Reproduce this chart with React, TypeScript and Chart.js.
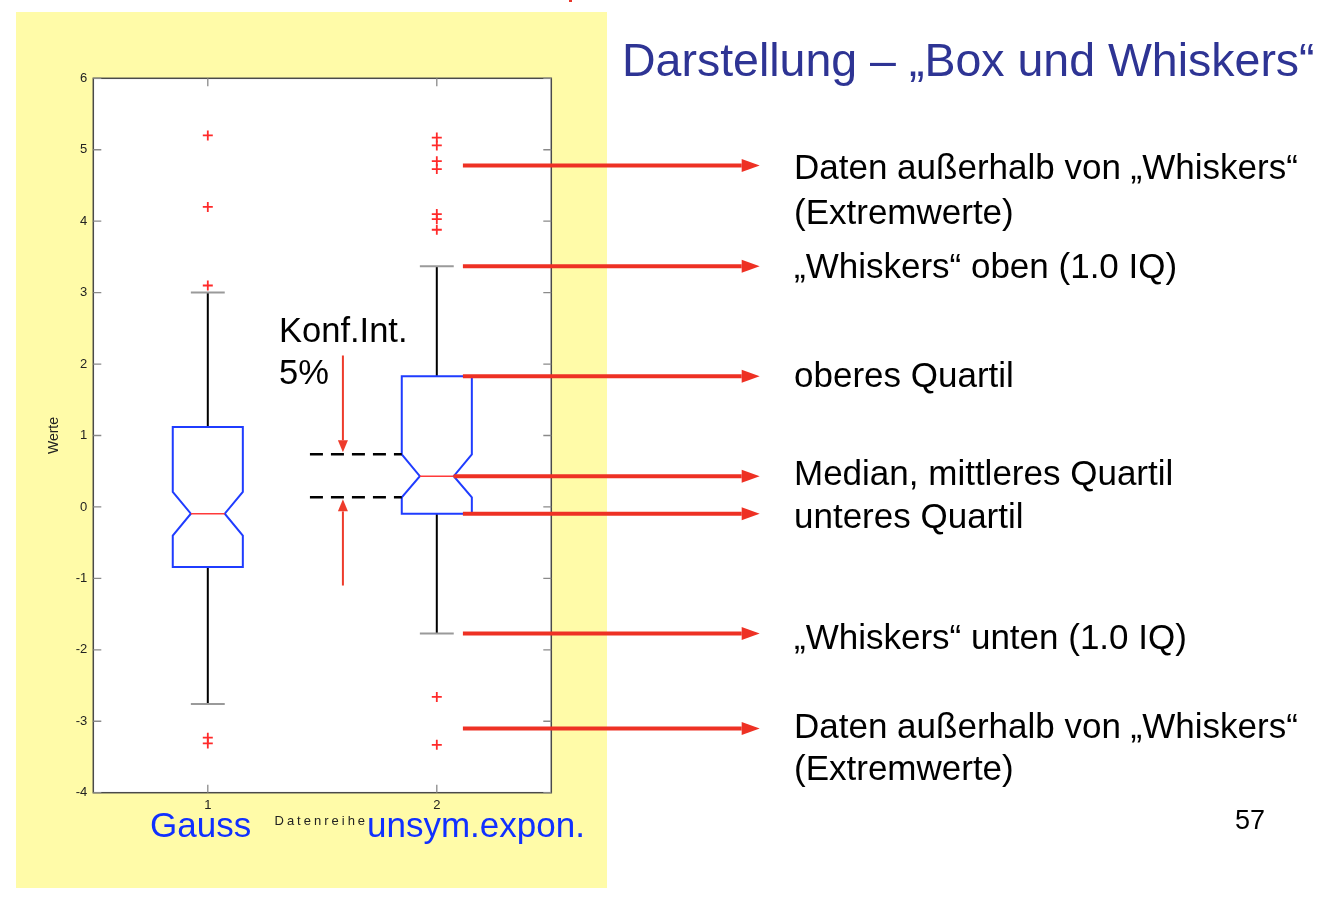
import React, { useEffect, useRef } from 'react';
import { Chart, registerables } from 'chart.js';

Chart.register(...registerables);

const FONT = "'Liberation Sans', Arial, Helvetica, sans-serif";

// ---- data ----
const categories = ['1', '2'];
const groupNames = ['Gauss', 'unsym.expon.'];
const whiskerLow = [-2.76, -1.77];
const quartile1 = [-0.84, -0.094];
const notchLow = [-0.4, 0.134];
const median = [-0.094, 0.43];
const notchHigh = [0.21, 0.736];
const quartile3 = [1.12, 1.83];
const whiskerHigh = [3.0, 3.37];
const outliersGauss = [5.2, 4.2, 3.1, -3.23, -3.31];
const outliersExpon = [5.17, 5.06, 4.84, 4.73, 4.1, 4.03, 3.88, -2.66, -3.33];
const yMin = -4;
const yMax = 6;
const yStep = 1;
// annotation arrows point at these values of series 2
const annotationValues = [4.78, whiskerHigh[1], quartile3[1], median[1], quartile1[1], whiskerLow[1], -3.1];
const konfArrowFrom = [2.12, -1.1];

const annotationLines = [
  { text: 'Daten außerhalb von „Whiskers“', top: 149 },
  { text: '(Extremwerte)', top: 194 },
  { text: '„Whiskers“ oben (1.0 IQ)', top: 248 },
  { text: 'oberes Quartil', top: 357 },
  { text: 'Median, mittleres Quartil', top: 455 },
  { text: 'unteres Quartil', top: 498 },
  { text: '„Whiskers“ unten (1.0 IQ)', top: 619 },
  { text: 'Daten außerhalb von „Whiskers“', top: 708 },
  { text: '(Extremwerte)', top: 750 },
];

function drawArrow(ctx: CanvasRenderingContext2D, x1: number, y1: number, x2: number, y2: number, lw: number, headLen: number, headHalf: number, color: string) {
  const ang = Math.atan2(y2 - y1, x2 - x1);
  const bx = x2 - headLen * Math.cos(ang);
  const by = y2 - headLen * Math.sin(ang);
  ctx.save();
  ctx.strokeStyle = color;
  ctx.fillStyle = color;
  ctx.lineWidth = lw;
  ctx.beginPath();
  ctx.moveTo(x1, y1);
  ctx.lineTo(bx, by);
  ctx.stroke();
  ctx.beginPath();
  ctx.moveTo(x2, y2);
  ctx.lineTo(bx + headHalf * Math.sin(ang), by - headHalf * Math.cos(ang));
  ctx.lineTo(bx - headHalf * Math.sin(ang), by + headHalf * Math.cos(ang));
  ctx.closePath();
  ctx.fill();
  ctx.restore();
}

const HALF_BOX = 0.153;
const HALF_NOTCH = 0.074;

const boxPlugin = {
  id: 'notchedBoxes',
  beforeDraw(chart: any) {
    const { ctx, chartArea: a } = chart;
    ctx.save();
    ctx.fillStyle = '#ffffff';
    ctx.fillRect(a.left, a.top, a.right - a.left, a.bottom - a.top);
    ctx.restore();
  },
  beforeDatasetsDraw(chart: any) {
    const { ctx } = chart;
    const xs = chart.scales.x;
    const ys = chart.scales.y;
    const px = (v: number) => xs.getPixelForValue(v);
    const py = (v: number) => ys.getPixelForValue(v);
    categories.forEach((_, i) => {
      const c = i + 1;
      ctx.save();
      // whiskers
      ctx.strokeStyle = '#000';
      ctx.lineWidth = 2;
      ctx.beginPath();
      ctx.moveTo(px(c), py(quartile3[i]));
      ctx.lineTo(px(c), py(whiskerHigh[i]));
      ctx.moveTo(px(c), py(quartile1[i]));
      ctx.lineTo(px(c), py(whiskerLow[i]));
      ctx.stroke();
      // caps
      ctx.strokeStyle = '#9a9a9a';
      ctx.lineWidth = 2;
      ctx.beginPath();
      ctx.moveTo(px(c - HALF_NOTCH), py(whiskerHigh[i]));
      ctx.lineTo(px(c + HALF_NOTCH), py(whiskerHigh[i]));
      ctx.moveTo(px(c - HALF_NOTCH), py(whiskerLow[i]));
      ctx.lineTo(px(c + HALF_NOTCH), py(whiskerLow[i]));
      ctx.stroke();
      // notched box
      ctx.fillStyle = '#ffffff';
      ctx.strokeStyle = '#1f3cff';
      ctx.lineWidth = 2;
      ctx.beginPath();
      ctx.moveTo(px(c - HALF_BOX), py(quartile3[i]));
      ctx.lineTo(px(c + HALF_BOX), py(quartile3[i]));
      ctx.lineTo(px(c + HALF_BOX), py(notchHigh[i]));
      ctx.lineTo(px(c + HALF_NOTCH), py(median[i]));
      ctx.lineTo(px(c + HALF_BOX), py(notchLow[i]));
      ctx.lineTo(px(c + HALF_BOX), py(quartile1[i]));
      ctx.lineTo(px(c - HALF_BOX), py(quartile1[i]));
      ctx.lineTo(px(c - HALF_BOX), py(notchLow[i]));
      ctx.lineTo(px(c - HALF_NOTCH), py(median[i]));
      ctx.lineTo(px(c - HALF_BOX), py(notchHigh[i]));
      ctx.closePath();
      ctx.fill();
      ctx.stroke();
      // median
      ctx.strokeStyle = '#ff3a3a';
      ctx.lineWidth = 1.5;
      ctx.beginPath();
      ctx.moveTo(px(c - HALF_NOTCH), py(median[i]));
      ctx.lineTo(px(c + HALF_NOTCH), py(median[i]));
      ctx.stroke();
      ctx.restore();
    });
  },
  afterDraw(chart: any) {
    const { ctx, chartArea: a } = chart;
    const xs = chart.scales.x;
    const ys = chart.scales.y;
    const px = (v: number) => xs.getPixelForValue(v);
    const py = (v: number) => ys.getPixelForValue(v);
    ctx.save();
    // frame
    ctx.strokeStyle = '#4a4a4a';
    ctx.lineWidth = 1.5;
    ctx.strokeRect(a.left, a.top, a.right - a.left, a.bottom - a.top);
    // inward ticks
    ctx.strokeStyle = '#8a8a8a';
    ctx.lineWidth = 1.3;
    ctx.beginPath();
    ys.ticks.forEach((t: any) => {
      const y = py(t.value);
      ctx.moveTo(a.left, y);
      ctx.lineTo(a.left + 8, y);
      ctx.moveTo(a.right, y);
      ctx.lineTo(a.right - 8, y);
    });
    xs.ticks.forEach((t: any) => {
      const x = px(t.value);
      ctx.moveTo(x, a.top);
      ctx.lineTo(x, a.top + 8);
      ctx.moveTo(x, a.bottom);
      ctx.lineTo(x, a.bottom - 8);
    });
    ctx.stroke();
    // confidence interval dashed lines (notch of series 2)
    ctx.strokeStyle = '#000';
    ctx.lineWidth = 2.5;
    ctx.setLineDash([13, 8]);
    ctx.beginPath();
    ctx.moveTo(px(1.446), py(notchHigh[1]));
    ctx.lineTo(px(2 - HALF_BOX), py(notchHigh[1]));
    ctx.moveTo(px(1.446), py(notchLow[1]));
    ctx.lineTo(px(2 - HALF_BOX), py(notchLow[1]));
    ctx.stroke();
    ctx.setLineDash([]);
    ctx.restore();
    // Konf.Int. arrows
    const kx = px(1.59);
    drawArrow(ctx, kx, py(konfArrowFrom[0]), kx, py(notchHigh[1]) - 2, 2, 12, 5, '#ee3b2b');
    drawArrow(ctx, kx, py(konfArrowFrom[1]), kx, py(notchLow[1]) + 2, 2, 12, 5, '#ee3b2b');
    // annotation arrows to the right
    annotationValues.forEach((v, i) => {
      const startX = i === 3 ? px(2 + HALF_NOTCH) : px(2.114);
      drawArrow(ctx, startX, py(v), px(3.41), py(v), 4, 18, 6.5, '#ee3124');
    });
    // x-axis title with letter spacing
    ctx.save();
    ctx.fillStyle = '#222';
    ctx.font = `13px ${FONT}`;
    (ctx as any).letterSpacing = '3px';
    ctx.textAlign = 'center';
    ctx.textBaseline = 'middle';
    ctx.fillText('Datenreihe', (a.left + a.right) / 2 - 1, 821);
    ctx.restore();
  },
};

export default function App() {
  const ref = useRef<HTMLCanvasElement | null>(null);
  useEffect(() => {
    if (!ref.current) return;
    Chart.defaults.font.family = FONT;
    const chart = new Chart(ref.current, {
      type: 'scatter',
      data: {
        datasets: [
          {
            label: groupNames[0],
            data: outliersGauss.map((y) => ({ x: 1, y })),
            pointStyle: 'cross',
            radius: 5,
            borderColor: '#ff2a2a',
            backgroundColor: '#ff2a2a',
            borderWidth: 1.8,
          },
          {
            label: groupNames[1],
            data: outliersExpon.map((y) => ({ x: 2, y })),
            pointStyle: 'cross',
            radius: 5,
            borderColor: '#ff2a2a',
            backgroundColor: '#ff2a2a',
            borderWidth: 1.8,
          },
        ],
      },
      options: {
        responsive: false,
        animation: false,
        layout: { padding: { left: 46, top: 78.3, right: 782.7, bottom: 67.3 } },
        plugins: { legend: { display: false }, tooltip: { enabled: false } },
        scales: {
          x: {
            type: 'linear',
            min: 0.5,
            max: 2.5,
            grid: { display: false, drawTicks: false },
            border: { display: false },
            afterBuildTicks: (s: any) => {
              s.ticks = categories.map((_, i) => ({ value: i + 1 }));
            },
            ticks: {
              callback: (v: any) => categories[Number(v) - 1] ?? '',
              font: { size: 13, family: FONT },
              color: '#222',
              padding: 5,
              maxRotation: 0,
              autoSkip: false,
            },
            afterFit: (s: any) => {
              s.height = 40;
            },
          },
          y: {
            min: yMin,
            max: yMax,
            grid: { display: false, drawTicks: false },
            border: { display: false },
            ticks: { stepSize: yStep, font: { size: 13, family: FONT }, color: '#222', padding: 6 },
            title: { display: true, text: 'Werte', font: { size: 14, family: FONT }, color: '#222', padding: 0 },
            afterFit: (s: any) => {
              s.width = 47.3;
            },
          },
        },
      },
      plugins: [boxPlugin],
    } as any);
    return () => chart.destroy();
  }, []);

  const txt = (extra: React.CSSProperties): React.CSSProperties => ({
    position: 'absolute',
    whiteSpace: 'nowrap',
    lineHeight: 1,
    fontFamily: FONT,
    margin: 0,
    ...extra,
  });

  return (
    <div style={{ position: 'absolute', left: 0, top: 0, width: 1334, height: 900, background: '#fff', overflow: 'hidden' }}>
      <div style={{ position: 'absolute', left: 16, top: 12, width: 591, height: 876, background: '#fffba8' }} />
      <div style={{ position: 'absolute', left: 569, top: 0, width: 3, height: 2, background: '#e8352a' }} />
      <canvas ref={ref} width={1334} height={900} style={{ position: 'absolute', left: 0, top: 0, width: 1334, height: 900 }} />
      <div style={txt({ left: 622, top: 37, fontSize: 46.5, color: '#2e3494' })}>Darstellung – „Box und Whiskers“</div>
      {annotationLines.map((l, i) => (
        <div key={i} style={txt({ left: 794, top: l.top, fontSize: 35, color: '#000' })}>{l.text}</div>
      ))}
      <div style={txt({ left: 279, top: 313, fontSize: 34.5, color: '#000' })}>Konf.Int.</div>
      <div style={txt({ left: 279, top: 355, fontSize: 34.5, color: '#000' })}>5%</div>
      <div style={txt({ left: 150, top: 807, fontSize: 35, color: '#1030ff' })}>{groupNames[0]}</div>
      <div style={txt({ left: 367, top: 807, fontSize: 35, color: '#1030ff' })}>{groupNames[1]}</div>
      <div style={txt({ left: 1235, top: 807, fontSize: 27, color: '#000' })}>57</div>
    </div>
  );
}
